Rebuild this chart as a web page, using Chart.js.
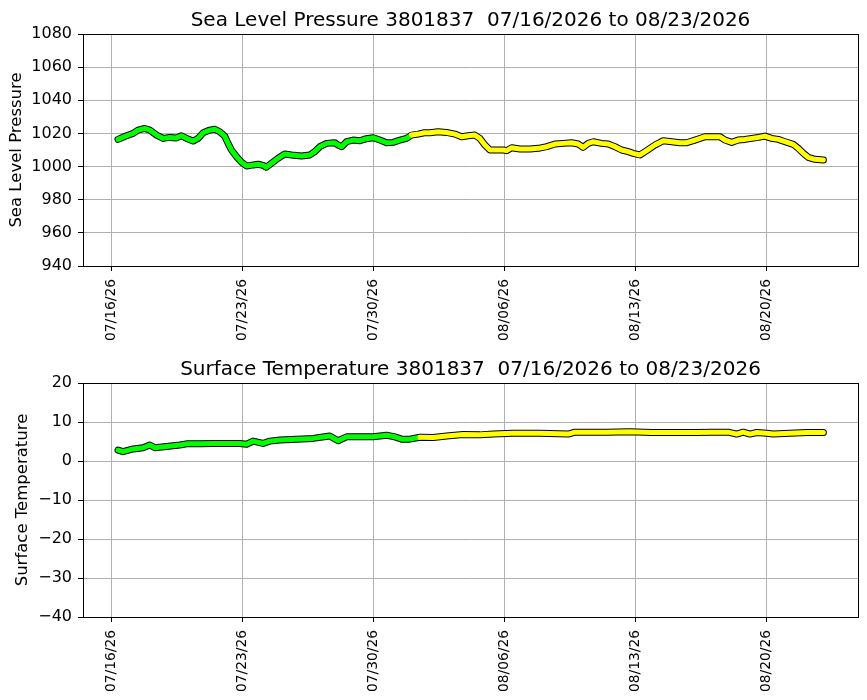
<!DOCTYPE html>
<html>
<head>
<meta charset="utf-8">
<script src="https://cdn.jsdelivr.net/npm/chart.js@4.4.1/dist/chart.umd.min.js"></script>
<style>
  html, body { margin: 0; padding: 0; background: #fff; }
  .panel { position: absolute; left: 0; width: 867px; height: 350px; }
  #p1 { top: 0; }
  #p2 { top: 350px; }
</style>
</head>
<body>
<div class="panel" id="p1"><canvas id="c1" width="867" height="350"></canvas></div>
<div class="panel" id="p2"><canvas id="c2" width="867" height="350"></canvas></div>
<script>
// days since 07/16/26 00:00
const tickDays = [0, 7, 14, 21, 28, 35];
const tickLabels = ['07/16/26', '07/23/26', '07/30/26', '08/06/26', '08/13/26', '08/20/26'];
const splitDay = 16.0; // green before, yellow after

const pressDays = [0.37, 0.82, 1.18, 1.44, 1.80, 2.07, 2.43, 2.78, 3.14, 3.49, 3.76, 4.11, 4.38, 4.65, 4.92,
  5.27, 5.54, 5.81, 6.07, 6.25, 6.43, 6.70, 6.97, 7.24, 7.59, 7.86, 8.12, 8.29, 8.57, 8.92, 9.28, 9.64,
  10.17, 10.62, 10.88, 11.15, 11.51, 11.95, 12.13, 12.31, 12.58, 12.93, 13.29, 13.56, 14.00, 14.36, 14.72,
  15.07, 15.43, 15.78, 16.05, 16.40, 16.73, 17.03, 17.47, 17.92, 18.37, 18.72, 19.08, 19.43, 19.70, 19.97,
  20.24, 20.59, 20.95, 21.13, 21.40, 21.84, 22.38, 22.82, 23.27, 23.71, 24.15, 24.60, 24.95, 25.22, 25.49,
  25.76, 26.20, 26.56, 26.92, 27.27, 27.63, 27.89, 28.25, 28.61, 29.05, 29.50, 29.95, 30.39, 30.75, 31.19,
  31.73, 32.17, 32.53, 32.80, 33.15, 33.50, 33.86, 34.22, 34.57, 34.93, 35.29, 35.64, 36.00, 36.44, 36.71,
  36.98, 37.24, 37.60, 38.05];
const pressVals = [1016.4, 1018.6, 1020, 1022, 1023, 1022, 1019, 1017, 1017.6, 1017.3, 1018.6, 1016.6, 1015.4, 1017, 1020.4,
  1022, 1022.5, 1021, 1018.4, 1014, 1010, 1006, 1002.6, 1000.3, 1001, 1001.4, 1000.7, 999.6, 1002, 1005, 1007.6, 1007,
  1006.4, 1007, 1009, 1012, 1014, 1014.4, 1013, 1012, 1015, 1016, 1015.6, 1016.6, 1017.4, 1016, 1014.4,
  1014.6, 1016, 1017, 1019, 1019.6, 1020.4, 1020.4, 1021, 1020.6, 1019.6, 1018, 1018.6, 1019, 1017, 1013,
  1010, 1010, 1010, 1009.6, 1011.4, 1010.6, 1010.6, 1011, 1012, 1013.6, 1014, 1014.4, 1013.6, 1011.6, 1014,
  1015, 1014, 1013.6, 1012, 1010, 1009, 1008, 1007, 1009.6, 1013, 1015.6, 1015, 1014.4, 1014.4, 1016,
  1018, 1018, 1018, 1016, 1014.6, 1016, 1016.4, 1017, 1017.6, 1018.4, 1017, 1016.4, 1015, 1013.4, 1011,
  1008, 1005.6, 1004.4, 1004];

const tempDays = [0.37, 0.64, 1.18, 1.71, 2.07, 2.34, 2.96, 3.67, 4.03, 4.74, 5.45, 6.17, 6.88, 7.24, 7.59,
  8.12, 8.48, 9.01, 9.91, 10.79, 11.68, 12.13, 12.58, 13.29, 14.00, 14.72, 15.16, 15.52, 15.96, 16.50,
  17.21, 17.92, 18.81, 19.70, 20.41, 21.48, 22.91, 24.42, 24.78, 26.47, 27.72, 28.88, 29.68, 30.39, 31.28,
  32.17, 32.97, 33.42, 33.77, 34.13, 34.49, 35.02, 35.37, 36.27, 37.16, 38.05];
const tempVals = [2.8, 2.4, 3.1, 3.4, 4.1, 3.4, 3.7, 4.1, 4.4, 4.4, 4.5, 4.5, 4.5, 4.3, 5.1,
  4.5, 5.1, 5.4, 5.6, 5.8, 6.4, 5.2, 6.2, 6.2, 6.2, 6.6, 6.2, 5.6, 5.6, 6.1,
  6.0, 6.4, 6.8, 6.7, 6.9, 7.1, 7.1, 6.9, 7.4, 7.4, 7.5, 7.3, 7.3, 7.3, 7.3,
  7.4, 7.4, 6.9, 7.4, 6.9, 7.3, 7.1, 6.9, 7.1, 7.3, 7.3];

const FONT = 'DejaVu Sans';
const GRID = '#b0b0b0';

const framePlugin = {
  id: 'frame',
  afterDraw(chart, args, opts) {
    const { ctx, chartArea: a } = chart;
    ctx.save();
    ctx.strokeStyle = '#000';
    ctx.lineWidth = 1;
    ctx.strokeRect(Math.round(a.left) + 0.5, Math.round(a.top) + 0.5,
      Math.round(a.right - a.left), Math.round(a.bottom - a.top));
    ctx.fillStyle = '#000';
    ctx.font = '20px "' + FONT + '"';
    ctx.textAlign = 'center';
    ctx.textBaseline = 'alphabetic';
    ctx.fillText(opts.text, (a.left + a.right) / 2, opts.baseline);
    ctx.restore();
  }
};

function makeChart(id, days, vals, o) {
  const toPts = () => days.map((d, i) => ({ x: d, y: vals[i] }));
  return new Chart(document.getElementById(id), {
    type: 'line',
    data: {
      datasets: [
        // first dataset is drawn on top
        {
          data: toPts(), borderColor: '#00ff00', borderWidth: 5, pointRadius: 0,
          borderCapStyle: 'round', borderJoinStyle: 'round', tension: 0,
          segment: { borderColor: (c) => (c.p0.parsed.x >= splitDay ? '#ffff00' : '#00ff00') },
        },
        {
          data: toPts(), borderColor: '#000', borderWidth: 7, pointRadius: 0,
          borderCapStyle: 'round', borderJoinStyle: 'round', tension: 0,
        },
      ],
    },
    options: {
      responsive: false,
      animation: false,
      events: [],
      layout: { padding: { top: o.padTop, right: 9, left: 0, bottom: 0 } },
      plugins: {
        legend: { display: false },
        tooltip: { enabled: false },
        frame: { text: o.title, baseline: o.titleBase },
      },
      scales: {
        x: {
          type: 'linear', min: -1.5, max: 39.9,
          afterBuildTicks: (s) => { s.ticks = tickDays.map((v) => ({ value: v })); },
          afterFit: (s) => { s.height = o.xHeight; },
          grid: { color: GRID, lineWidth: 1, tickColor: '#000', tickLength: 5 },
          border: { display: false },
          ticks: {
            minRotation: 90, maxRotation: 90, padding: 8, color: '#000',
            font: { family: FONT, size: 13.8 },
            callback: (v) => tickLabels[tickDays.indexOf(v)] || '',
          },
        },
        y: {
          min: o.ymin, max: o.ymax,
          afterBuildTicks: (s) => {
            const t = [];
            for (let v = o.ymin; v <= o.ymax; v += o.step) t.push({ value: v });
            s.ticks = t;
          },
          afterFit: (s) => { s.width = 83; },
          grid: { color: GRID, lineWidth: 1, tickColor: '#000', tickLength: 5 },
          border: { display: false },
          ticks: {
            padding: 6, color: '#000', font: { family: FONT, size: 16 },
            callback: (v) => String(v).replace('-', '\u2212'),
          },
          title: {
            display: true, text: o.ylabel, color: '#000',
            font: { family: FONT, size: 16.5 }, padding: { top: o.labPad, bottom: 0 },
          },
        },
      },
    },
    plugins: [framePlugin],
  });
}

makeChart('c1', pressDays, pressVals, {
  title: 'Sea Level Pressure 3801837  07/16/2026 to 08/23/2026', titleBase: 25.7,
  padTop: 34, xHeight: 84, ymin: 940, ymax: 1080, step: 20,
  ylabel: 'Sea Level Pressure', labPad: 6.6,
});
makeChart('c2', tempDays, tempVals, {
  title: 'Surface Temperature 3801837  07/16/2026 to 08/23/2026', titleBase: 25,
  padTop: 33, xHeight: 83, ymin: -40, ymax: 20, step: 10,
  ylabel: 'Surface Temperature', labPad: 12.6,
});
</script>
</body>
</html>
